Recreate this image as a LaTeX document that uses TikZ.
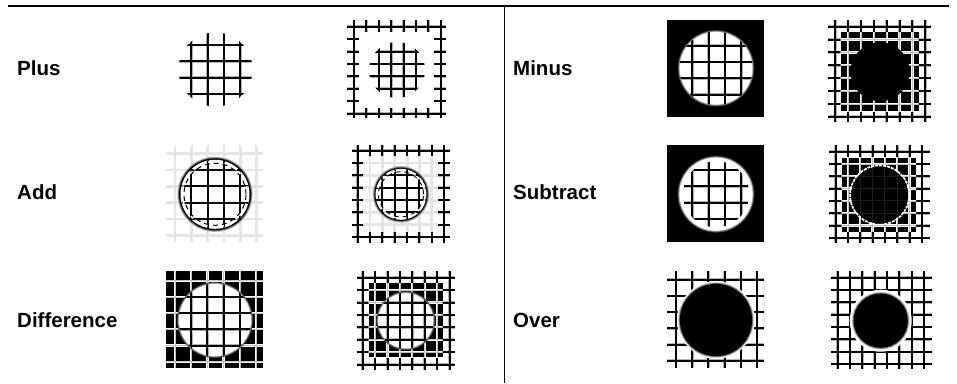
\documentclass[tikz,border=0pt]{standalone}
\usepackage{fontspec}
\usepackage{xcolor}
\usepackage{tikz}
\setmainfont{Liberation Sans}

\newcommand{\gridpanel}[9]{%
  \foreach \i in {0,...,#4} {
    \draw[#9] ({#1+\i*#3},#6) -- ({#1+\i*#3},#8);
    \draw[#9] (#5,{#2+\i*#3}) -- (#7,{#2+\i*#3});
  }}
\newcommand{\softgrid}[8]{%
  \gridpanel{#1}{#2}{#3}{#4}{#5}{#6}{#7}{#8}{softunder}
  \gridpanel{#1}{#2}{#3}{#4}{#5}{#6}{#7}{#8}{softline}}
\newcommand{\whitegrid}[8]{%
  \gridpanel{#1}{#2}{#3}{#4}{#5}{#6}{#7}{#8}{whiteline}
  \gridpanel{#1}{#2}{#3}{#4}{#5}{#6}{#7}{#8}{whitecore}}
\newcommand{\softdisc}[6]{%
  \fill[black!#5] (#1,#2) circle ({#3+.9pt});
  \fill[black!#6] (#1,#2) circle (#3);
  \fill[#4] (#1,#2) circle ({#3-.9pt});}

\begin{document}
\begin{tikzpicture}[
        x=1pt, y=-1pt,
        softunder/.style={draw=black!30, line width=2.6pt},
        softline/.style={draw=black, line width=2pt},
        whiteline/.style={draw=white, line width=2.3pt},
        whitecore/.style={draw=black!25, line width=.6pt},
        faintline/.style={draw=black!10, line width=2.8pt},
        darkline/.style={draw=black!88, line width=1pt},
        rowlabel/.style={anchor=base west, inner sep=0pt, font=\fontsize{20.5}{24}\selectfont\bfseries},
        rulebar/.style={draw=black, line width=1.2pt}
        ]
        \useasboundingbox (0,0) rectangle (957,383);
        \fill[white] (0,0) rectangle (957,383);

        \draw[rulebar] (8,6) -- (949,6);
        \draw[rulebar] (504.5,6) -- (504.5,383);

        \node[rowlabel] (plus) at (17,75) {Plus};
        \node[rowlabel] (add) at (17,199) {Add};
        \node[rowlabel] (difference) at (17,327) {Difference};
        \node[rowlabel] (minus) at (513,75) {Minus};
        \node[rowlabel] (subtract) at (513,199) {Subtract};
        \node[rowlabel] (over) at (513,327) {Over};

        \begin{scope}
          \clip (215.5,69.5) circle (37pt);
          \softgrid{175}{28.7}{16.3}{5}{160}{20}{270}{120}
        \end{scope}

        \softgrid{354}{26.7}{12.4}{7}{347.3}{20}{446}{118.3}
        \fill[white] (359.3,31.7) rectangle (434,107.7);
        \begin{scope}
          \clip (397,70) circle (28pt);
          \softgrid{354}{26.7}{12.4}{7}{347.3}{20}{446}{118.3}
        \end{scope}

        \gridpanel{175}{153.7}{16.3}{5}{166}{145}{262.7}{241.7}{faintline}
        \softdisc{215}{194.3}{36.8pt}{black}{25}{60}
        \fill[white] (215,194.3) circle (34.5pt);
        \begin{scope}
          \clip (215,194.3) circle (34.5pt);
          \gridpanel{175}{153.7}{16.3}{5}{166}{145}{262.7}{241.7}{softline}
        \end{scope}
        \draw[white, line width=1.8pt, dash pattern=on 3pt off 2.5pt] (215,194.3) circle (32.6pt);
        \draw[black, line width=1pt, dash pattern=on 5pt off 4pt] (215,194.3) circle (31pt);

        \softgrid{357.7}{150.7}{12.35}{7}{351.7}{145}{450}{242.7}
        \fill[white] (363.3,156.7) rectangle (437.7,231);
        \begin{scope}
          \clip (363.3,156.7) rectangle (437.7,231);
          \gridpanel{357.7}{150.7}{12.35}{7}{351.7}{145}{450}{242.7}{faintline}
        \end{scope}
        \softdisc{401}{194.3}{27.5pt}{black}{25}{60}
        \fill[white] (401,194.3) circle (25.5pt);
        \begin{scope}
          \clip (401,194.3) circle (25.5pt);
          \gridpanel{357.7}{150.7}{12.35}{7}{351.7}{145}{450}{242.7}{softline}
        \end{scope}
        \draw[white, line width=1.6pt, dash pattern=on 3pt off 2.5pt] (401,194.3) circle (24pt);
        \draw[black, line width=.9pt, dash pattern=on 5pt off 4pt] (401,194.3) circle (22.6pt);

        \fill[black] (166,271) rectangle (262.7,367.7);
        \whitegrid{175}{280.7}{16.2}{5}{166}{271}{262.7}{367.7}
        \softdisc{215}{320}{37pt}{white}{75}{40}
        \begin{scope}
          \clip (215,320) circle (36.5pt);
          \softgrid{175}{280.7}{16.2}{5}{166}{271}{262.7}{367.7}
        \end{scope}

        \softgrid{362.7}{277.7}{12.4}{7}{356.7}{271}{455}{370}
        \fill[black] (368.7,283.3) rectangle (442.7,357.3);
        \begin{scope}
          \clip (368.7,283.3) rectangle (442.7,357.3);
          \whitegrid{362.7}{277.7}{12.4}{7}{356.7}{271}{455}{370}
        \end{scope}
        \softdisc{405.7}{320.7}{28.5pt}{white}{75}{40}
        \begin{scope}
          \clip (405.7,320.7) circle (28pt);
          \softgrid{362.7}{277.7}{12.4}{7}{356.7}{271}{455}{370}
        \end{scope}

        \fill[black] (667,20) rectangle (764,116.7);
        \softdisc{716}{68.3}{37.3pt}{white}{75}{40}
        \begin{scope}
          \clip (716,68.3) circle (36.8pt);
          \softgrid{676}{29.4}{16.3}{5}{667}{20}{764}{116.7}
        \end{scope}

        \softgrid{835.3}{26.7}{12.85}{7}{828}{20}{931}{122}
        \fill[black] (840.7,32.3) rectangle (918.7,111);
        \begin{scope}
          \clip (840.7,32.3) rectangle (918.7,111);
          \whitegrid{835.3}{26.7}{12.85}{7}{828}{20}{931}{122}
        \end{scope}
        \fill[black] (880,71.7) circle (29.5pt);

        \fill[black] (667,145) rectangle (764,241.7);
        \softdisc{716}{194.2}{37.5pt}{white}{75}{40}
        \begin{scope}
          \clip (716,194.2) circle (33pt);
          \softgrid{676}{153.7}{16.3}{5}{667}{145}{764}{241.7}
        \end{scope}

        \softgrid{835.7}{151.7}{12.3}{7}{829.3}{145}{930}{242.7}
        \fill[black] (841.7,157.7) rectangle (916,231.7);
        \begin{scope}
          \clip (841.7,157.7) rectangle (916,231.7);
          \whitegrid{835.7}{151.7}{12.3}{7}{829.3}{145}{930}{242.7}
        \end{scope}
        \draw[white, line width=1.8pt, dash pattern=on 3pt off 1pt] (879.7,195) circle (29.6pt);
        \fill[black] (879.7,195) circle (28.5pt);
        \begin{scope}
          \clip (879.7,195) circle (27.5pt);
          \gridpanel{835.7}{151.7}{12.3}{7}{829.3}{145}{930}{242.7}{darkline}
        \end{scope}

        \softgrid{676}{279.7}{16.2}{5}{667}{271}{764}{367.7}
        \fill[white] (716,320) circle (38.8pt);
        \softdisc{716}{320}{37pt}{black}{20}{55}

        \softgrid{837.7}{277.7}{12.35}{7}{831}{271}{932}{369.3}
        \fill[white] (880.7,320.7) circle (31pt);
        \softdisc{880.7}{320.7}{28pt}{black}{20}{55}
\end{tikzpicture}
\end{document}
